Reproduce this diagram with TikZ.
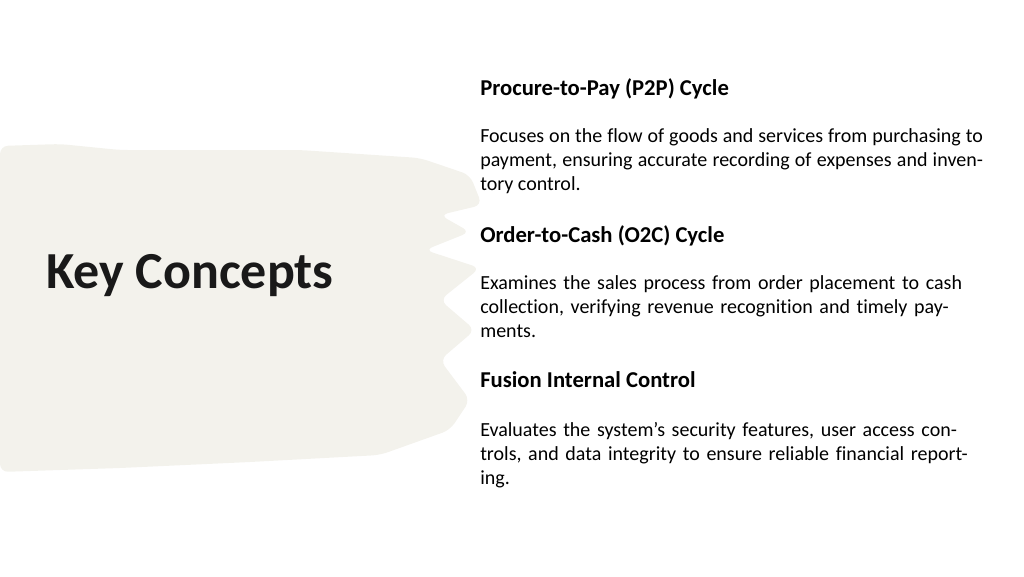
\documentclass[tikz,border=0pt]{standalone}
\usepackage{fontspec}
\setmainfont[Ligatures=NoCommon]{Carlito}
\usetikzlibrary{positioning}
\definecolor{brush}{HTML}{F3F2EC}
\tikzset{
  head/.style={anchor=north west,inner sep=0pt,font=\fontsize{17pt}{18pt}\selectfont\bfseries},
  body/.style={anchor=north west,inner sep=0pt,text width=377pt,font=\fontsize{15pt}{18pt}\selectfont},
}
\begin{document}
\begin{tikzpicture}[x=0.75pt,y=-0.75pt]
    \useasboundingbox (0,0) rectangle (1024,576);
    % brush stroke
    \fill[brush,rounded corners=6pt] (0,146) -- (60,144) -- (120,150) -- (300,150) -- (420,158) -- (470,175)
        -- (482,205) -- (440,215) -- (470,232) -- (425,250) -- (480,268) -- (440,300)
        -- (475,330) -- (440,360) -- (470,400) -- (450,430) -- (380,455) -- (250,462)
        -- (120,468) -- (0,472) -- cycle;

    \node[anchor=west,inner sep=0pt,font=\fontsize{39pt}{40pt}\selectfont\bfseries,text=black!90] (title) at (46,276) {Key Concepts};

    \node[head] (p2p) at (480,78) {Procure-to-Pay (P2P) Cycle};
    \node[body,align=justify] (p2ptext) at (480,128) {Focuses on the flow of goods and services from purchasing to payment, ensuring accurate recording of expenses and inventory control.};

    \node[head] (o2c) at (480,225) {Order-to-Cash (O2C) Cycle};
    \node[body,align=left] (o2ctext) at (480,275) {Examines the sales process from order placement to cash collection, verifying revenue recognition and timely payments.};

    \node[head] (fic) at (480,371) {Fusion Internal Control};
    \node[body,align=left] (fictext) at (480,422) {Evaluates the system\symbol{39}s security features, user access controls, and data integrity to ensure reliable financial reporting.};
\end{tikzpicture}
\end{document}
